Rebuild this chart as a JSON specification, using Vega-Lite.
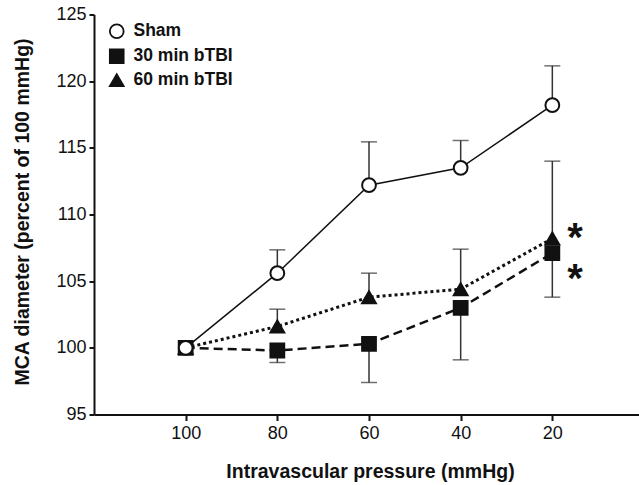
{
  "$schema": "https://vega.github.io/schema/vega-lite/v6.json",
  "width": 550,
  "height": 400,
  "autosize": {"type": "none"},
  "padding": {"left": 94, "top": 14.5, "right": 0, "bottom": 70},
  "background": "white",
  "config": {
    "view": {"stroke": null},
    "font": "Liberation Sans",
    "axis": {
      "grid": false,
      "domainColor": "#111",
      "domainWidth": 2,
      "tickColor": "#111",
      "tickWidth": 2,
      "tickSize": 6,
      "labelColor": "#111",
      "labelFont": "Liberation Sans",
      "labelFontSize": 18,
      "titleFont": "Liberation Sans",
      "titleFontSize": 19.5,
      "titleFontWeight": "bold",
      "titleColor": "#111"
    },
    "legend": {
      "title": null,
      "orient": "none",
      "legendX": 14,
      "legendY": 8,
      "padding": 0,
      "labelFontSize": 17.5,
      "labelFontWeight": "bold",
      "labelColor": "#111",
      "labelFont": "Liberation Sans",
      "labelOffset": 8,
      "rowPadding": 3,
      "symbolSize": 190,
      "symbolStrokeColor": "#111",
      "symbolStrokeWidth": 1.8
    }
  },
  "datasets": {
    "main": [
      {"series": "30 min bTBI", "p": 100, "y": 100.0, "err": null},
      {"series": "30 min bTBI", "p": 80, "y": 99.8, "err": 98.9},
      {"series": "30 min bTBI", "p": 60, "y": 100.3, "err": 97.4},
      {"series": "30 min bTBI", "p": 40, "y": 103.0, "err": 99.1},
      {"series": "30 min bTBI", "p": 20, "y": 107.1, "err": 103.8},
      {"series": "60 min bTBI", "p": 100, "y": 100.0, "err": null},
      {"series": "60 min bTBI", "p": 80, "y": 101.6, "err": 102.9},
      {"series": "60 min bTBI", "p": 60, "y": 103.8, "err": 105.6},
      {"series": "60 min bTBI", "p": 40, "y": 104.4, "err": 107.4},
      {"series": "60 min bTBI", "p": 20, "y": 108.2, "err": 114.0},
      {"series": "Sham", "p": 100, "y": 100.0, "err": null},
      {"series": "Sham", "p": 80, "y": 105.6, "err": 107.35},
      {"series": "Sham", "p": 60, "y": 112.2, "err": 115.45},
      {"series": "Sham", "p": 40, "y": 113.5, "err": 115.55},
      {"series": "Sham", "p": 20, "y": 118.2, "err": 121.15}
    ],
    "stars": [
      {"p": 15, "y": 109.0, "label": "*"},
      {"p": 15, "y": 105.9, "label": "*"}
    ]
  },
  "data": {"name": "main"},
  "encoding": {
    "x": {
      "field": "p",
      "type": "quantitative",
      "scale": {"domain": [0, 120], "reverse": true, "nice": false, "zero": false},
      "axis": {
        "values": [100, 80, 60, 40, 20],
        "title": "Intravascular pressure (mmHg)",
        "labelPadding": 4,
        "titleX": 276,
        "titleY": 63,
        "titleAlign": "center",
        "titleBaseline": "alphabetic"
      }
    },
    "y": {
      "field": "y",
      "type": "quantitative",
      "scale": {"domain": [95, 125], "nice": false, "zero": false},
      "axis": {
        "values": [95, 100, 105, 110, 115, 120, 125],
        "title": "MCA diameter (percent of 100 mmHg)",
        "labelPadding": 3,
        "tickSize": 5,
        "titleAngle": -90,
        "titleX": -65.5,
        "titleY": 197,
        "titleAlign": "center",
        "titleBaseline": "alphabetic"
      }
    }
  },
  "layer": [
    {
      "transform": [{"filter": "datum.err != null"}],
      "mark": {"type": "rule", "color": "#333", "strokeWidth": 1.5},
      "encoding": {"y2": {"field": "err"}}
    },
    {
      "transform": [{"filter": "datum.err != null"}],
      "mark": {"type": "tick", "orient": "horizontal", "color": "#333", "size": 16, "thickness": 1.5},
      "encoding": {"y": {"field": "err", "type": "quantitative"}}
    },
    {
      "transform": [{"filter": "datum.series == 'Sham'"}],
      "mark": {"type": "line", "color": "#111", "strokeWidth": 1.5}
    },
    {
      "transform": [{"filter": "datum.series == '30 min bTBI'"}],
      "mark": {"type": "line", "color": "#111", "strokeWidth": 2.5, "strokeDash": [9, 5]}
    },
    {
      "transform": [{"filter": "datum.series == '60 min bTBI'"}],
      "mark": {"type": "line", "color": "#111", "strokeWidth": 3, "strokeDash": [3, 3]}
    },
    {
      "mark": {"type": "point", "filled": false, "strokeWidth": 2, "size": 190, "opacity": 1},
      "encoding": {
        "shape": {
          "field": "series",
          "type": "nominal",
          "scale": {"domain": ["Sham", "30 min bTBI", "60 min bTBI"], "range": ["circle", "square", "triangle-up"]}
        },
        "fill": {
          "field": "series",
          "type": "nominal",
          "scale": {"domain": ["Sham", "30 min bTBI", "60 min bTBI"], "range": ["white", "#111", "#111"]}
        },
        "stroke": {
          "field": "series",
          "type": "nominal",
          "scale": {"domain": ["Sham", "30 min bTBI", "60 min bTBI"], "range": ["#111", "#111", "#111"]}
        }
      }
    },
    {
      "data": {"name": "stars"},
      "mark": {"type": "text", "font": "Liberation Sans", "fontWeight": "bold", "fontSize": 40, "color": "#111", "align": "left", "baseline": "alphabetic", "dx": -8, "dy": 23},
      "encoding": {"text": {"field": "label"}}
    }
  ]
}
